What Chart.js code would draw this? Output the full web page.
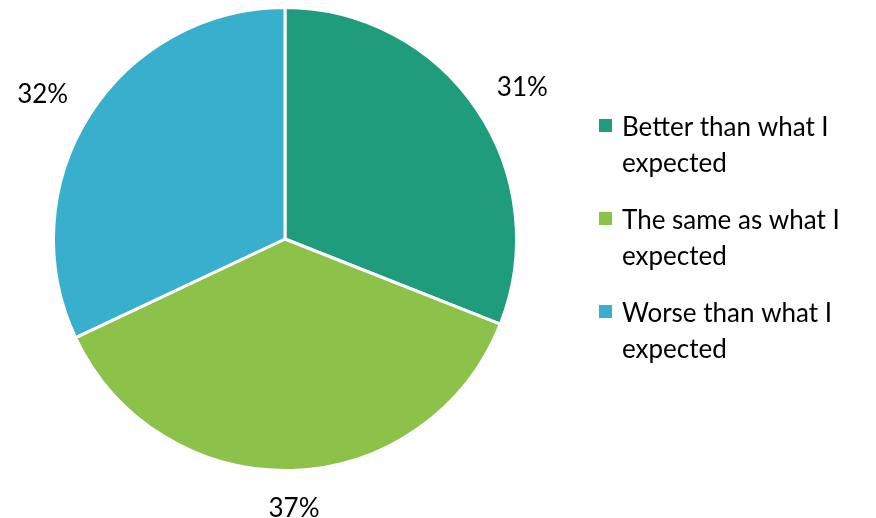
<!DOCTYPE html>
<html>
<head>
<meta charset="utf-8">
<script src="https://cdn.jsdelivr.net/npm/chart.js@4"></script>
<style>
  html, body { margin: 0; padding: 0; background: #fff; }
  #wrap { width: 876px; height: 518px; }
</style>
</head>
<body>
<div id="wrap"><canvas id="pastel" width="876" height="518"></canvas></div>
<script>
var categorias = ['Better than what I expected', 'The same as what I expected', 'Worse than what I expected'];
var lineasLeyenda = [['Better than what I', 'expected'], ['The same as what I', 'expected'], ['Worse than what I', 'expected']];
var porcentajes = [31, 37, 32];
var colores = ['#1F9C7B', '#8CC24A', '#39AFCE'];

var fuente = '26px Lato, "Open Sans", sans-serif';

// etiquetas de porcentaje fuera de cada porcion
var etiquetasFuera = {
    id: 'etiquetasFuera',
    afterDatasetsDraw: function (chart) {
        var ctx = chart.ctx;
        var arcos = chart.getDatasetMeta(0).data;
        ctx.save();
        ctx.font = fuente;
        ctx.fillStyle = '#000';
        ctx.textAlign = 'center';
        ctx.textBaseline = 'middle';
        arcos.forEach(function (arco, i) {
            var p = arco.getProps(['x', 'y', 'startAngle', 'endAngle', 'outerRadius'], true);
            var medio = (p.startAngle + p.endAngle) / 2;
            var dx = Math.cos(medio), dy = Math.sin(medio);
            var texto = porcentajes[i] + '%';
            var w = ctx.measureText(texto).width;
            var d = p.outerRadius + 30;
            var x = p.x + dx * d + dx * w / 2;
            var y = p.y + dy * d + dy * 8;
            ctx.fillText(texto, x, y);
        });
        ctx.restore();
    }
};

// leyenda a la derecha con texto en dos lineas
var leyendaDerecha = {
    id: 'leyendaDerecha',
    afterDraw: function (chart) {
        var ctx = chart.ctx;
        ctx.save();
        ctx.font = fuente;
        ctx.textBaseline = 'middle';
        lineasLeyenda.forEach(function (lineas, i) {
            var y0 = 126 + i * 93;
            ctx.fillStyle = colores[i];
            ctx.fillRect(599, y0 - 7, 13, 13);
            ctx.fillStyle = '#000';
            lineas.forEach(function (linea, j) {
                ctx.fillText(linea, 622, y0 + 2 + j * 36);
            });
        });
        ctx.restore();
    }
};

new Chart(document.getElementById('pastel').getContext('2d'), {
    type: 'pie',
    data: {
        labels: categorias,
        datasets: [{
            data: porcentajes,
            backgroundColor: colores,
            borderColor: '#fff',
            borderWidth: 3
        }]
    },
    options: {
        responsive: false,
        animation: false,
        layout: { padding: { left: 52, right: 358, top: 6, bottom: 46 } },
        plugins: {
            legend: { display: false },
            tooltip: { enabled: false }
        }
    },
    plugins: [etiquetasFuera, leyendaDerecha]
});
</script>
</body>
</html>
